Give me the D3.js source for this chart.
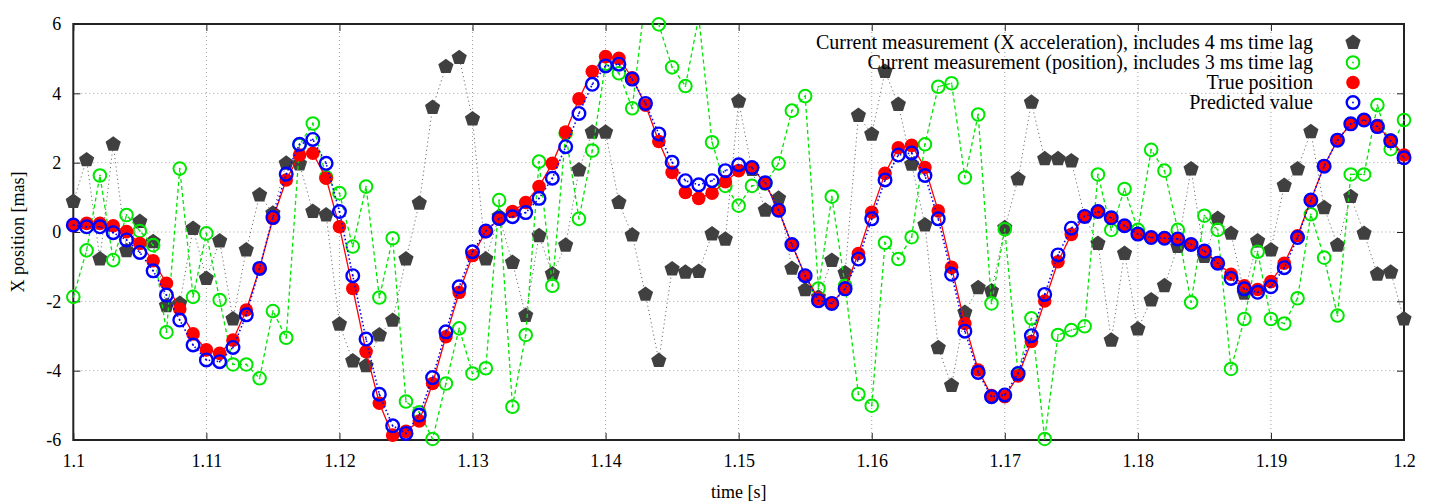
<!DOCTYPE html>
<html>
<head>
<meta charset="utf-8">
<script src="https://cdn.jsdelivr.net/npm/d3@7"></script>
<style>
html,body{margin:0;padding:0;background:#fff;}
svg{display:block;font-family:"Liberation Serif","Times New Roman",serif;}
</style>
</head>
<body>
<svg id="chart" width="1440" height="504"></svg>
<script>
// ---------------- data ----------------
const time = [1.100,1.101,1.102,1.103,1.104,1.105,1.106,1.107,1.108,1.109,
1.110,1.111,1.112,1.113,1.114,1.115,1.116,1.117,1.118,1.119,
1.120,1.121,1.122,1.123,1.124,1.125,1.126,1.127,1.128,1.129,
1.130,1.131,1.132,1.133,1.134,1.135,1.136,1.137,1.138,1.139,
1.140,1.141,1.142,1.143,1.144,1.145,1.146,1.147,1.148,1.149,
1.150,1.151,1.152,1.153,1.154,1.155,1.156,1.157,1.158,1.159,
1.160,1.161,1.162,1.163,1.164,1.165,1.166,1.167,1.168,1.169,
1.170,1.171,1.172,1.173,1.174,1.175,1.176,1.177,1.178,1.179,
1.180,1.181,1.182,1.183,1.184,1.185,1.186,1.187,1.188,1.189,
1.190,1.191,1.192,1.193,1.194,1.195,1.196,1.197,1.198,1.199,1.200];

const accelMeas = [0.88,2.08,-0.78,2.53,-0.54,0.3,-0.28,-2.13,-2.06,0.1,
-1.34,-0.26,-2.51,-0.52,1.07,0.54,1.98,1.96,0.59,0.49,
-2.66,-3.72,-3.86,-2.97,-2.55,-0.78,0.83,3.59,4.77,5.03,
3.26,-0.78,0.45,-0.88,-2.41,-0.11,-1.21,-0.38,1.79,2.88,
2.88,0.85,-0.09,-1.8,-3.71,-1.07,-1.16,-1.14,-0.06,-0.21,
3.77,1.8,0.63,0.97,-1.05,-1.67,-1.88,-0.82,-1.18,3.36,
2.82,4.63,3.68,1.95,0.2,-3.34,-4.43,-2.32,-1.61,-1.7,
0.12,1.53,3.74,2.11,2.11,2.05,0.45,-0.33,-3.12,-0.62,
-2.8,-1.96,-1.55,-0.42,1.82,-0.71,0.39,-0.04,-1.77,-0.26,
-0.52,1.34,1.82,2.89,0.7,-0.38,1.02,-0.04,-1.22,-1.16,-2.51];

const posMeas = [-1.87,-0.53,1.63,-0.81,0.49,0.03,-0.38,-2.89,1.83,-1.87,
-0.04,-1.96,-3.82,-3.82,-4.22,-2.28,-3.05,2.51,3.13,1.58,
1.12,-0.42,1.31,-1.89,-0.18,-4.89,-5.2,-5.97,-4.37,-2.78,
-4.08,-3.93,0.92,-5.04,-2.97,2.03,-1.55,2.85,0.38,2.35,
4.85,4.58,3.57,6.8,5.99,4.75,4.21,6.2,2.59,1.33,
0.76,1.33,1.4,1.98,3.5,3.92,-1.63,1.02,-1.55,-4.68,
-5.01,-0.31,-0.78,-0.15,2.53,4.19,4.29,1.57,3.39,-2.06,
0.08,-4.1,-2.49,-5.97,-2.97,-2.83,-2.72,1.66,0.06,1.24,
0.06,2.37,1.77,0.06,-2.03,0.47,0.06,-3.95,-2.51,-0.57,
-2.51,-2.64,-1.91,0.51,-0.74,-2.41,1.66,1.66,3.66,2.39,3.23];

const truePos = [0.18,0.25,0.25,0.18,0.01,-0.33,-0.83,-1.48,-2.22,-2.94,
-3.4,-3.5,-3.12,-2.25,-1.05,0.39,1.5,2.22,2.27,1.55,
0.15,-1.63,-3.45,-4.94,-5.86,-5.75,-5.45,-4.37,-3.02,-1.74,
-0.68,0.01,0.38,0.59,0.85,1.31,1.98,2.88,3.84,4.63,
5.06,5.01,4.45,3.66,2.61,1.72,1.14,0.97,1.12,1.45,
1.77,1.86,1.4,0.63,-0.36,-1.26,-1.93,-2.06,-1.61,-0.62,
0.57,1.69,2.43,2.5,1.86,0.61,-1.02,-2.64,-3.98,-4.72,
-4.75,-4.15,-3.16,-1.99,-0.86,-0.07,0.45,0.59,0.41,0.18,
-0.06,-0.16,-0.18,-0.2,-0.36,-0.55,-0.9,-1.22,-1.55,-1.66,
-1.43,-0.9,-0.11,0.92,1.91,2.65,3.11,3.23,3.07,2.65,2.22];

const predicted = [0.2,0.15,0.15,-0.02,-0.23,-0.59,-1.12,-1.82,-2.54,-3.26,
-3.69,-3.74,-3.33,-2.39,-1.05,0.42,1.67,2.53,2.67,1.98,
0.59,-1.26,-3.09,-4.68,-5.59,-5.81,-5.28,-4.2,-2.88,-1.58,
-0.57,0.03,0.39,0.44,0.56,0.97,1.55,2.46,3.42,4.26,
4.79,4.84,4.41,3.71,2.83,2.01,1.48,1.36,1.48,1.77,
1.94,1.86,1.42,0.63,-0.36,-1.26,-1.98,-2.06,-1.64,-0.78,
0.38,1.5,2.22,2.28,1.63,0.38,-1.22,-2.86,-4.05,-4.75,
-4.7,-4.08,-2.99,-1.8,-0.66,0.11,0.45,0.59,0.41,0.18,
-0.06,-0.16,-0.18,-0.2,-0.36,-0.55,-0.9,-1.34,-1.64,-1.74,
-1.58,-1.03,-0.16,0.92,1.9,2.65,3.12,3.23,3.04,2.63,2.14];

const xTicks = [1.1,1.11,1.12,1.13,1.14,1.15,1.16,1.17,1.18,1.19,1.2];
const xTickLabels = ["1.1","1.11","1.12","1.13","1.14","1.15","1.16","1.17","1.18","1.19","1.2"];
const yTicks = [-6,-4,-2,0,2,4,6];
const yTickLabels = ["-6","-4","-2","0","2","4","6"];

const legendLabels = [
  "Current measurement (X acceleration), includes 4 ms time lag",
  "Current measurement (position), includes 3 ms time lag",
  "True position",
  "Predicted value"
];
const xLabel = "time [s]";
const yLabel = "X position [mas]";

// ---------------- layout ----------------
const L = 73.3, R = 1404, T = 24, B = 440;
const svg = d3.select("#chart");
const x = d3.scaleLinear().domain([1.1, 1.2]).range([L, R]);
const y = d3.scaleLinear().domain([-6, 6]).range([B, T]);

const COL_GRAY = "#404040", COL_GREEN = "#00e600", COL_RED = "#ff0000", COL_BLUE = "#0000ff";

svg.append("defs").append("clipPath").attr("id","clip")
  .append("rect").attr("x",L).attr("y",T).attr("width",R-L).attr("height",B-T);

// grid
const grid = svg.append("g");
xTicks.slice(1,-1).forEach(v=>{
  grid.append("line").attr("x1",x(v)).attr("x2",x(v)).attr("y1",T).attr("y2",B)
    .attr("stroke","#a0a0a0").attr("stroke-width",1).attr("stroke-dasharray","1,3");
});
yTicks.slice(1,-1).forEach(v=>{
  grid.append("line").attr("x1",L).attr("x2",R).attr("y1",y(v)).attr("y2",y(v))
    .attr("stroke","#a0a0a0").attr("stroke-width",1).attr("stroke-dasharray","1,3");
});

// axes
const fontSize = 18;
const legendFontSize = 20;
const axB = svg.append("g").attr("transform",`translate(0,${B})`)
  .call(d3.axisBottom(x).tickValues(xTicks).tickFormat((d,i)=>xTickLabels[i]).tickSize(-7).tickPadding(14));
const axT = svg.append("g").attr("transform",`translate(0,${T})`)
  .call(d3.axisTop(x).tickValues(xTicks).tickFormat("").tickSize(-7));
const axL = svg.append("g").attr("transform",`translate(${L},0)`)
  .call(d3.axisLeft(y).tickValues(yTicks).tickFormat((d,i)=>yTickLabels[i]).tickSize(-7).tickPadding(12));
const axR = svg.append("g").attr("transform",`translate(${R},0)`)
  .call(d3.axisRight(y).tickValues(yTicks).tickFormat("").tickSize(-7));
[axB,axT,axL,axR].forEach(a=>{
  a.select(".domain").remove();
  a.selectAll(".tick line").attr("stroke","#222").attr("stroke-width",1);
  a.selectAll("text").attr("font-family","Liberation Serif").attr("font-size",fontSize).attr("fill","#000");
});
axB.selectAll("text").attr("dy","0.71em");
axL.selectAll("text").attr("dy","0.32em");

svg.append("rect").attr("x",L).attr("y",T).attr("width",R-L).attr("height",B-T)
  .attr("fill","none").attr("stroke","#222").attr("stroke-width",2);

svg.append("text").attr("x",(L+R)/2).attr("y",498).attr("text-anchor","middle")
  .attr("font-size",fontSize).text(xLabel);
svg.append("text").attr("transform",`translate(24,${(T+B)/2}) rotate(-90)`)
  .attr("text-anchor","middle").attr("font-size",fontSize).text(yLabel);

// ---------------- series ----------------
const plot = svg.append("g");
function pentagonPath(r){
  const pts = d3.range(5).map(k=>{
    const a = -Math.PI/2 + k*2*Math.PI/5;
    return [r*Math.cos(a), r*Math.sin(a)];
  });
  return "M"+pts.map(p=>p[0].toFixed(2)+","+p[1].toFixed(2)).join("L")+"Z";
}
const inRange = v => v >= -6.05 && v <= 6.05;

function drawLine(vals, color, width, dash){
  const line = d3.line().x((d,i)=>x(time[i])).y(d=>y(d));
  plot.append("path").attr("d",line(vals)).attr("fill","none")
    .attr("stroke",color).attr("stroke-width",width)
    .attr("stroke-dasharray",dash||null).attr("clip-path","url(#clip)");
}

// gray acceleration measurement
drawLine(accelMeas, "#707070", 1, "1.2,3");
plot.append("g").selectAll("path").data(accelMeas.map((v,i)=>({v,i})).filter(d=>inRange(d.v)))
  .join("path").attr("d",pentagonPath(8))
  .attr("transform",d=>`translate(${x(time[d.i])},${y(d.v)})`).attr("fill",COL_GRAY);

// green position measurement
drawLine(posMeas, COL_GREEN, 1.3, "4,3");
const gG = plot.append("g").selectAll("g").data(posMeas.map((v,i)=>({v,i})).filter(d=>inRange(d.v)))
  .join("g").attr("transform",d=>`translate(${x(time[d.i])},${y(d.v)})`);
gG.append("circle").attr("r",6.3).attr("fill","none").attr("stroke",COL_GREEN).attr("stroke-width",2);
gG.append("circle").attr("r",0.9).attr("fill",COL_GREEN);

// red true position
drawLine(truePos, COL_RED, 1.3, null);
plot.append("g").selectAll("circle").data(truePos.map((v,i)=>({v,i})).filter(d=>inRange(d.v)))
  .join("circle").attr("cx",d=>x(time[d.i])).attr("cy",d=>y(d.v)).attr("r",6.8).attr("fill",COL_RED);

// blue predicted
drawLine(predicted, COL_BLUE, 1.6, "1.5,2.5");
const bG = plot.append("g").selectAll("g").data(predicted.map((v,i)=>({v,i})).filter(d=>inRange(d.v)))
  .join("g").attr("transform",d=>`translate(${x(time[d.i])},${y(d.v)})`);
bG.append("circle").attr("r",6.3).attr("fill","none").attr("stroke",COL_BLUE).attr("stroke-width",2.4);
bG.append("circle").attr("r",0.9).attr("fill",COL_BLUE);

// ---------------- legend ----------------
const legY = [42.5, 62.5, 82.5, 102.5];
const legX = 1313, symX = 1353;
const leg = svg.append("g");
legendLabels.forEach((t,k)=>{
  leg.append("text").attr("x",legX).attr("y",legY[k]).attr("dy","0.33em")
    .attr("text-anchor","end").attr("font-size",legendFontSize).text(t);
});
leg.append("path").attr("d",pentagonPath(8)).attr("transform",`translate(${symX},${legY[0]})`).attr("fill",COL_GRAY);
leg.append("circle").attr("cx",symX).attr("cy",legY[1]).attr("r",6.3).attr("fill","none").attr("stroke",COL_GREEN).attr("stroke-width",2);
leg.append("circle").attr("cx",symX).attr("cy",legY[1]).attr("r",0.9).attr("fill",COL_GREEN);
leg.append("circle").attr("cx",symX).attr("cy",legY[2]).attr("r",6.8).attr("fill",COL_RED);
leg.append("circle").attr("cx",symX).attr("cy",legY[3]).attr("r",6.3).attr("fill","none").attr("stroke",COL_BLUE).attr("stroke-width",2.4);
leg.append("circle").attr("cx",symX).attr("cy",legY[3]).attr("r",0.9).attr("fill",COL_BLUE);
</script>
</body>
</html>
